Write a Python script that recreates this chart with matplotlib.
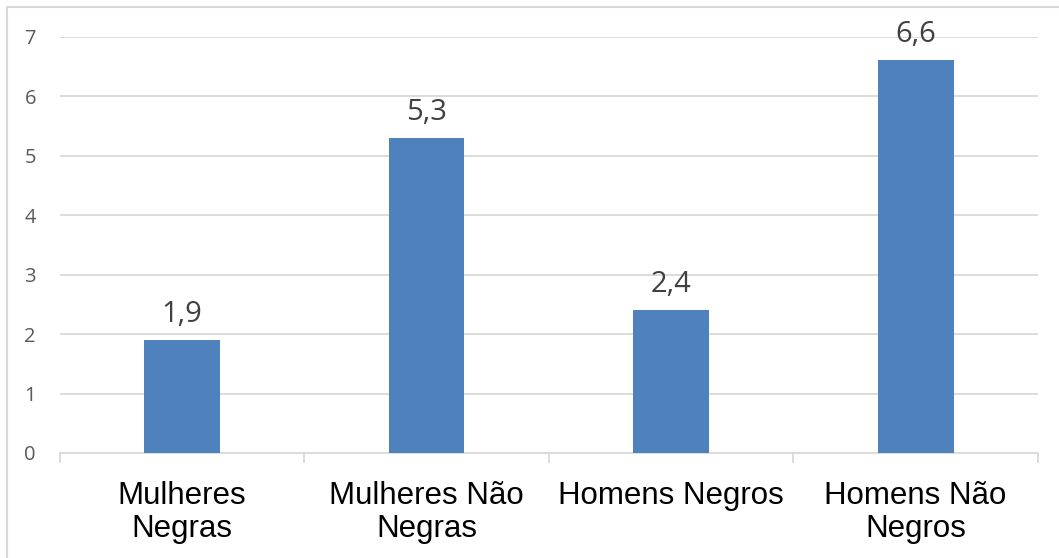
import matplotlib.pyplot as plt
from matplotlib.patches import Rectangle

# values
categories = ["Mulheres\nNegras", "Mulheres Não\nNegras", "Homens Negros", "Homens Não\nNegros"]
values = [1.9, 5.3, 2.4, 6.6]
value_labels = ["1,9", "5,3", "2,4", "6,6"]

W, H = 1059, 558
fig = plt.figure(figsize=(W / 100, H / 100), dpi=100)
ax = fig.add_axes([59.5 / W, 1 - 453 / H, (1038 - 59.5) / W, (453 - 36.7) / H])

x = range(len(categories))
bars = ax.bar(x, values, width=0.31, color="#4F81BD", zorder=3)

ax.set_xlim(-0.5, 3.5)
ax.set_ylim(0, 7)
ax.set_yticks(range(0, 8))
ax.grid(axis="y", color="#D9D9D9", linewidth=1.3, zorder=0)
for side in ["top", "right", "left"]:
    ax.spines[side].set_visible(False)
ax.spines["bottom"].set_color("#D9D9D9")
ax.spines["bottom"].set_linewidth(1.3)

ax.set_xticks(list(x))
ax.set_xticklabels(categories, fontsize=22.5, family="Liberation Sans",
                   color="black", linespacing=1.15, va="top")
ax.tick_params(axis="x", which="major", length=0, pad=20)
ax.set_xticks([-0.5, 0.5, 1.5, 2.5, 3.5], minor=True)
ax.tick_params(axis="x", which="minor", length=7, width=1.3, color="#D9D9D9")
ax.tick_params(axis="y", length=0, pad=17, labelsize=14.5, labelcolor="#595959")
for lbl in ax.get_yticklabels():
    lbl.set_family("Open Sans")

for bar, lab in zip(bars, value_labels):
    ax.annotate(lab, (bar.get_x() + bar.get_width() / 2, bar.get_height()),
                xytext=(0, 8), textcoords="offset points", ha="center", va="bottom",
                fontsize=21, color="#404040", family="Open Sans")

# outer chart border (only top/left visible in the crop)
fig.add_artist(Rectangle((7 / W, -0.1), 1.2, 1.1 - 7 / H, transform=fig.transFigure,
                         fill=False, edgecolor="#D9D9D9", linewidth=1.5))

fig.savefig("out.png", dpi=100)
